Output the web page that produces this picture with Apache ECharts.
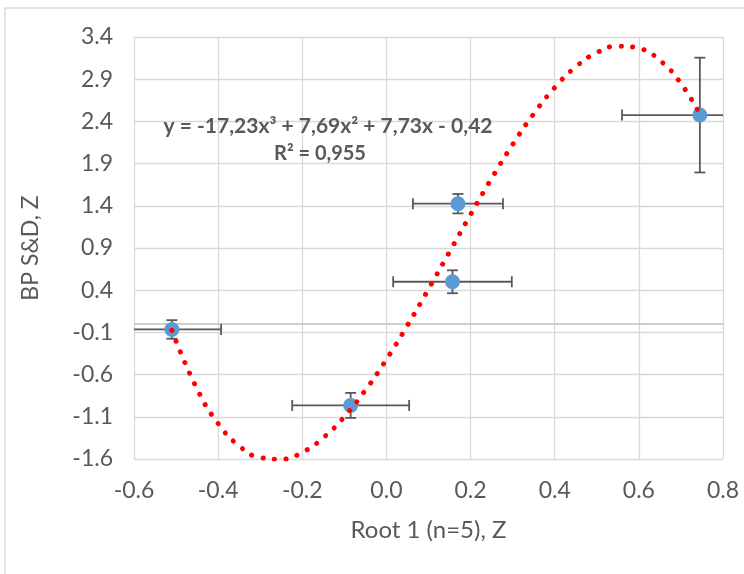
<!DOCTYPE html>
<html><head><meta charset="utf-8">
<script src="https://cdn.jsdelivr.net/npm/echarts@6/dist/echarts.min.js"></script>
<style>html,body{margin:0;padding:0;background:#fff}#c{width:744px;height:574px}</style>
</head><body><div id="c"></div>
<script>
// ---- data ----
const xTicks = [-0.6, -0.4, -0.2, 0.0, 0.2, 0.4, 0.6, 0.8];
const yTicks = [-1.6, -1.1, -0.6, -0.1, 0.4, 0.9, 1.4, 1.9, 2.4, 2.9, 3.4];
const xVals = [-0.51, -0.085, 0.157, 0.17, 0.745];
const yVals = [-0.065, -0.965, 0.50, 1.425, 2.475];
const xErr  = [0.117, 0.139, 0.141, 0.107, 0.185];
const yErr  = [0.11, 0.148, 0.136, 0.115, 0.68];
const trendX = [-0.51, -0.45, -0.4, -0.35, -0.3, -0.25, -0.2, -0.15, -0.1, -0.05, 0, 0.05, 0.1, 0.15, 0.2, 0.25, 0.3, 0.35, 0.4, 0.45, 0.5, 0.55, 0.6, 0.65, 0.7, 0.745];
const trendY = [-0.076, -0.771, -1.179, -1.445, -1.582, -1.603, -1.521, -1.348, -1.099, -0.785, -0.42, -0.017, 0.413, 0.854, 1.296, 1.724, 2.126, 2.489, 2.800, 3.046, 3.214, 3.291, 3.265, 3.122, 2.849, 2.483];
const eqLine1 = 'y = -17,23x³ + 7,69x² + 7,73x - 0,42';
const eqLine2 = 'R² = 0,955';
const xTitle = 'Root 1 (n=5), Z';
const yTitle = 'BP S&D, Z';

const X_MIN = xTicks[0], X_MAX = xTicks[xTicks.length - 1];
const Y_MIN = yTicks[0], Y_MAX = yTicks[yTicks.length - 1];
const FONT = 'Lato';
const GRID = '#d9d9d9';
const TXT = '#595959';

const chart = echarts.init(document.getElementById('c'), null, {renderer: 'canvas'});
const pts = xVals.map((x, i) => [x, yVals[i], xErr[i], yErr[i]]);

const gridLines = yTicks.map(v => ({yAxis: v}));
gridLines.push({yAxis: 0, lineStyle: {color: '#bfbfbf', width: 1.5, type: 'solid'}, label: {show: false}});

chart.setOption({
  animation: false,
  backgroundColor: '#fff',
  grid: {left: 134, right: 21, top: 37, bottom: 115, containLabel: false},
  xAxis: {
    type: 'value', min: X_MIN, max: X_MAX, interval: 0.2,
    axisLine: {show: false}, axisTick: {show: false},
    splitLine: {show: true, lineStyle: {color: GRID, width: 1.3}},
    axisLabel: {color: TXT, fontFamily: FONT, fontSize: 23, margin: 20,
      formatter: v => v.toFixed(1)},
    name: xTitle, nameLocation: 'middle', nameGap: 59,
    nameTextStyle: {color: TXT, fontFamily: FONT, fontSize: 24}
  },
  yAxis: {
    type: 'value', min: Y_MIN, max: Y_MAX,
    axisLine: {show: false}, axisTick: {show: false},
    splitLine: {show: false}, axisLabel: {show: false},
    name: yTitle, nameLocation: 'middle', nameGap: 92, nameRotate: 90,
    nameTextStyle: {color: TXT, fontFamily: FONT, fontSize: 23}
  },
  graphic: [
    {type: 'rect', silent: true, z: -10, shape: {x: 5, y: 8, width: 760, height: 580},
      style: {fill: 'none', stroke: GRID, lineWidth: 1.5}},
    {type: 'text', z: 100, silent: true,
      x: 328, y: 126,
      style: {text: eqLine1, fill: TXT, font: 'bold 21px ' + FONT, textAlign: 'center', textVerticalAlign: 'middle'}},
    {type: 'text', z: 100, silent: true,
      x: 320, y: 154,
      style: {text: eqLine2, fill: TXT, font: 'bold 20px ' + FONT, textAlign: 'center', textVerticalAlign: 'middle'}}
  ],
  series: [
    {
      type: 'line', data: [], z: 1, silent: true,
      markLine: {
        z: 1, silent: true, symbol: ['none', 'none'], animation: false,
        lineStyle: {color: GRID, width: 1.3, type: 'solid'},
        label: {show: true, position: 'start', distance: 21, color: TXT, fontFamily: FONT, fontSize: 23,
          formatter: p => Number(p.value).toFixed(1)},
        emphasis: {disabled: true},
        data: gridLines
      }
    },
    {
      type: 'custom', z: 2, silent: true, data: pts,
      renderItem: (params, api) => {
        const x = api.value(0), y = api.value(1), ex = api.value(2), ey = api.value(3);
        const lo = Math.max(x - ex, X_MIN), hi = Math.min(x + ex, X_MAX);
        const ylo = Math.max(y - ey, Y_MIN), yhi = Math.min(y + ey, Y_MAX);
        const a = api.coord([lo, y]), b = api.coord([hi, y]);
        const c = api.coord([x, ylo]), d = api.coord([x, yhi]);
        const cap = 5.5;
        const st = {stroke: '#595959', lineWidth: 1.8};
        const ch = [
          {type: 'line', shape: {x1: a[0], y1: a[1], x2: b[0], y2: b[1]}, style: st},
          {type: 'line', shape: {x1: c[0], y1: c[1], x2: d[0], y2: d[1]}, style: st}
        ];
        if (x - ex >= X_MIN) ch.push({type: 'line', shape: {x1: a[0], y1: a[1] - cap, x2: a[0], y2: a[1] + cap}, style: st});
        if (x + ex <= X_MAX) ch.push({type: 'line', shape: {x1: b[0], y1: b[1] - cap, x2: b[0], y2: b[1] + cap}, style: st});
        if (y - ey >= Y_MIN) ch.push({type: 'line', shape: {x1: c[0] - cap, y1: c[1], x2: c[0] + cap, y2: c[1]}, style: st});
        if (y + ey <= Y_MAX) ch.push({type: 'line', shape: {x1: d[0] - cap, y1: d[1], x2: d[0] + cap, y2: d[1]}, style: st});
        return {type: 'group', children: ch};
      }
    },
    {
      type: 'scatter', z: 3, silent: true,
      data: xVals.map((x, i) => [x, yVals[i]]),
      symbol: 'circle', symbolSize: 15,
      itemStyle: {color: '#5b9bd5', opacity: 1}
    },
    {
      type: 'line', z: 4, silent: true, smooth: true, showSymbol: false, symbol: 'none',
      data: trendX.map((x, i) => [x, trendY[i]]),
      lineStyle: {color: '#ff0000', width: 5, type: [0.1, 11.5], cap: 'round'}
    }
  ]
});
</script></body></html>
